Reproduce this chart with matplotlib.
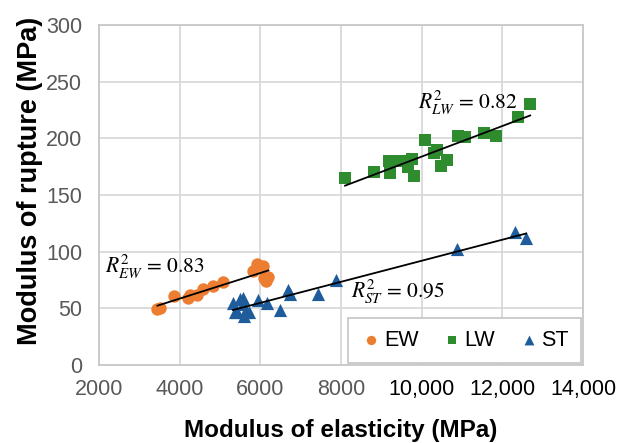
import numpy as np
import matplotlib
matplotlib.use("Agg")
import matplotlib.pyplot as plt

plt.rcParams['font.family'] = ['Liberation Sans', 'DejaVu Sans']
plt.rcParams['mathtext.fontset'] = 'stix'

# ---- data ----
ew_x = [3450, 3510, 3850, 4210, 4260, 4420, 4570, 4820, 5080, 5810, 5910, 6060, 6080, 6140, 6200]
ew_y = [49, 50, 61, 59, 62, 62, 67.5, 69.5, 73.5, 83, 89, 87, 76.5, 74, 78]

lw_x = [8100, 8820, 9190, 9220, 9460, 9650, 9750, 9800, 10080, 10300, 10370, 10480, 10620,
        10890, 11080, 11550, 11840, 12400, 12690]
lw_y = [165, 170, 180, 169, 180, 174.5, 182, 167, 198.5, 187, 190, 176, 181,
        202, 201, 205, 202, 218.5, 230]

st_x = [5320, 5370, 5420, 5500, 5560, 5580, 5600, 5620, 5730, 5950, 6160, 6480, 6690, 6740,
        7440, 7880, 10870, 12320, 12590]
st_y = [55, 47, 47, 58, 59, 54, 43.5, 46.5, 47, 57.5, 55, 48.5, 66, 63,
        63, 75, 102, 117.5, 112]

series_names = ['EW', 'LW', 'ST']
r2_labels = [r'$R^2_{EW}$ = 0.83', r'$R^2_{LW}$ = 0.82', r'$R^2_{ST}$ = 0.95']
r2_pos = [(2150, 81), (9900, 226.5), (8260, 59)]

x_ticks = [2000, 4000, 6000, 8000, 10000, 12000, 14000]
x_ticklabels = ['2000', '4000', '6000', '8000', '10,000', '12,000', '14,000']
y_ticks = [0, 50, 100, 150, 200, 250, 300]

colors = ['#ED7D31', '#2E8B2E', '#1F5C9C']
markers = ['o', 's', '^']
msizes = [80, 64, 90]

fig = plt.figure(figsize=(6.18, 4.43), dpi=100)
ax = fig.add_axes([99/618, 78/443, 484/618, 340/443])

xs = [ew_x, lw_x, st_x]
ys = [ew_y, lw_y, st_y]
for x, y, c, m, s, n in zip(xs, ys, colors, markers, msizes, series_names):
    ax.scatter(x, y, s=s, c=c, marker=m, label=n, zorder=3, linewidths=0)
for x, y in zip(xs, ys):
    x = np.asarray(x, float); y = np.asarray(y, float)
    k, b = np.polyfit(x, y, 1)
    xx = np.array([x.min(), x.max()])
    ax.plot(xx, k*xx + b, color='black', lw=1.3, zorder=4)

for lab, (px, py) in zip(r2_labels, r2_pos):
    ax.text(px, py, lab, fontsize=15.5, family='STIXGeneral', va='baseline', ha='left',
            zorder=5, math_fontfamily='stix')

ax.set_xlim(2000, 14000)
ax.set_ylim(0, 300)
ax.set_xticks(x_ticks)
ax.set_xticklabels(x_ticklabels)
ax.set_yticks(y_ticks)
for i, t in enumerate(ax.get_xticklabels()):
    t.set_color('#595959' if i < 4 else '#000000')
for t in ax.get_yticklabels():
    t.set_color('#595959')
ax.tick_params(axis='both', length=0, labelsize=15.5)
ax.tick_params(axis='x', pad=10)
ax.tick_params(axis='y', pad=12)

ax.grid(True, color='#d9d9d9', lw=1.3, zorder=0)
ax.set_axisbelow(True)
for sp in ax.spines.values():
    sp.set_color('#c8c8c8')
    sp.set_linewidth(1.3)

ax.set_xlabel('Modulus of elasticity (MPa)', fontsize=17.5, fontweight='bold')
ax.set_ylabel('Modulus of rupture (MPa)', fontsize=19.5, fontweight='bold')
ax.xaxis.set_label_coords(0.5, -0.16)
ax.yaxis.set_label_coords(-0.115, 0.542)

leg = ax.legend(loc='lower right', ncol=3, fontsize=15.5, frameon=True, fancybox=False,
                edgecolor='#c8c8c8', framealpha=1, borderaxespad=0.1,
                handletextpad=0.1, columnspacing=1.05, markerscale=0.75,
                borderpad=0.55, handlelength=1.0)
leg.get_frame().set_linewidth(1.3)

fig.savefig('out.png', dpi=100)
